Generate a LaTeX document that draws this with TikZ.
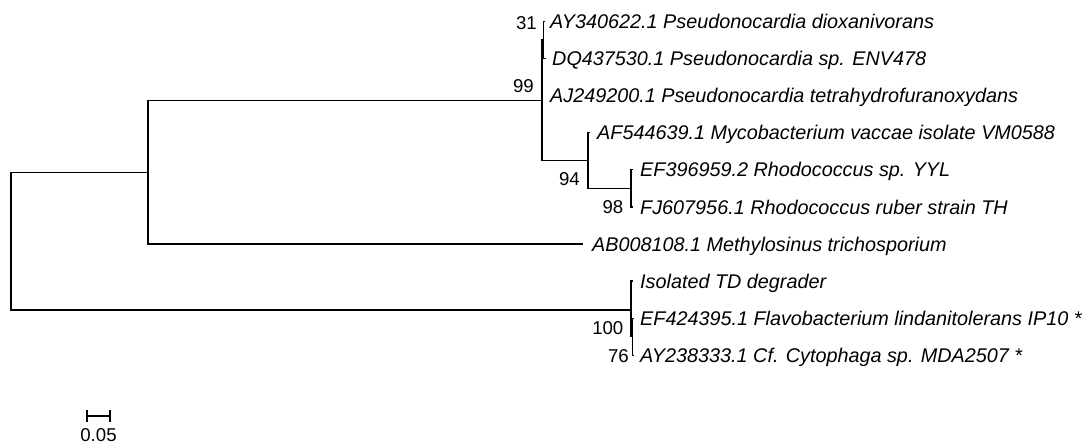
\documentclass[tikz,border=0pt]{standalone}
\usepackage{fontspec}
\setmainfont{Liberation Sans}
\begin{document}
\begin{tikzpicture}[x=1pt,y=-1pt,
  branch/.style={draw=black, line width=1.3pt},
  taxon/.style={anchor=west, inner sep=0pt, font=\fontsize{19.8}{21}\selectfont\itshape, text height=14.2pt, text depth=0pt},
  boot/.style={anchor=east, inner sep=0pt, font=\fontsize{18.6}{20}\selectfont, text height=13.3pt, text depth=0pt}]
\useasboundingbox (0,0) rectangle (1091,444);
% internal nodes
\coordinate (root) at (11,240.5);
\coordinate (nA) at (148,172.3);
\coordinate (n99) at (542,100.2);
\coordinate (n31) at (543.5,39.9);
\coordinate (n94) at (588,160.5);
\coordinate (n98) at (631,188.4);
\coordinate (n100) at (631,309.9);
\coordinate (n76) at (632.5,336.8);
% tips
\coordinate (t1) at (545,21.3);
\coordinate (t2) at (546,58.4);
\coordinate (t3) at (543,95.6);
\coordinate (t4) at (590,132.7);
\coordinate (t5) at (633,169.8);
\coordinate (t6) at (633,206.9);
\coordinate (t7) at (583,244.0);
\coordinate (t8) at (633,281.1);
\coordinate (t9) at (633.5,318.3);
\coordinate (t10) at (633.5,355.4);
% labels
\node[taxon] (l1) at ([xshift=5pt]t1) {AY340622.1 Pseudonocardia dioxanivorans};
\node[taxon] (l2) at ([xshift=6pt]t2) {DQ437530.1 Pseudonocardia sp. ENV478};
\node[taxon] (l3) at ([xshift=7pt]t3) {AJ249200.1 Pseudonocardia tetrahydrofuranoxydans};
\node[taxon] (l4) at ([xshift=7pt]t4) {AF544639.1 Mycobacterium vaccae isolate VM0588};
\node[taxon] (l5) at ([xshift=7pt]t5) {EF396959.2 Rhodococcus sp. YYL};
\node[taxon] (l6) at ([xshift=7pt]t6) {FJ607956.1 Rhodococcus ruber strain TH};
\node[taxon] (l7) at ([xshift=9pt]t7) {AB008108.1 Methylosinus trichosporium};
\node[taxon] (l8) at ([xshift=7pt]t8) {Isolated TD degrader};
\node[taxon] (l9) at ([xshift=6.5pt]t9) {EF424395.1 Flavobacterium lindanitolerans IP10 *};
\node[taxon] (l10) at ([xshift=6.5pt]t10) {AY238333.1 Cf. Cytophaga sp. MDA2507 *};
% branches
\draw[branch] (root) |- (nA);
\draw[branch] (root) |- (n100);
\draw[branch] (nA) |- (n99);
\draw[branch] (nA) |- (t7);
\draw[branch] (n99) |- (n31);
\draw[branch] (n99) |- (t3);
\draw[branch] (n99) |- (n94);
\draw[branch] (n31) |- (t1);
\draw[branch] (n31) |- (t2);
\draw[branch] (n94) |- (t4);
\draw[branch] (n94) |- (n98);
\draw[branch] (n98) |- (t5);
\draw[branch] (n98) |- (t6);
\draw[branch] (n100) |- (t8);
\draw[branch] (n100) |- (n76);
\draw[branch] (n76) |- (t9);
\draw[branch] (n76) |- (t10);
% bootstrap values
\node[boot] (b31) at (537,23) {31};
\node[boot] (b99) at (534,85.5) {99};
\node[boot] (b94) at (580,179) {94};
\node[boot] (b98) at (623.5,207) {98};
\node[boot] (b100) at (623.5,328) {100};
\node[boot] (b76) at (629,356) {76};
% scale bar
\coordinate (sbL) at (87,416);
\coordinate (sbR) at (110,416);
\draw[branch, line width=1.1pt] (sbL) -- (sbR);
\draw[branch, line width=1.1pt] ([yshift=6pt]sbL) -- ([yshift=-6pt]sbL);
\draw[branch, line width=1.1pt] ([yshift=6pt]sbR) -- ([yshift=-6pt]sbR);
\node[inner sep=0pt, font=\fontsize{18.6}{20}\selectfont, text height=13.3pt, text depth=0pt] (sbt) at (98.5,435) {0.05};
\end{tikzpicture}
\end{document}
